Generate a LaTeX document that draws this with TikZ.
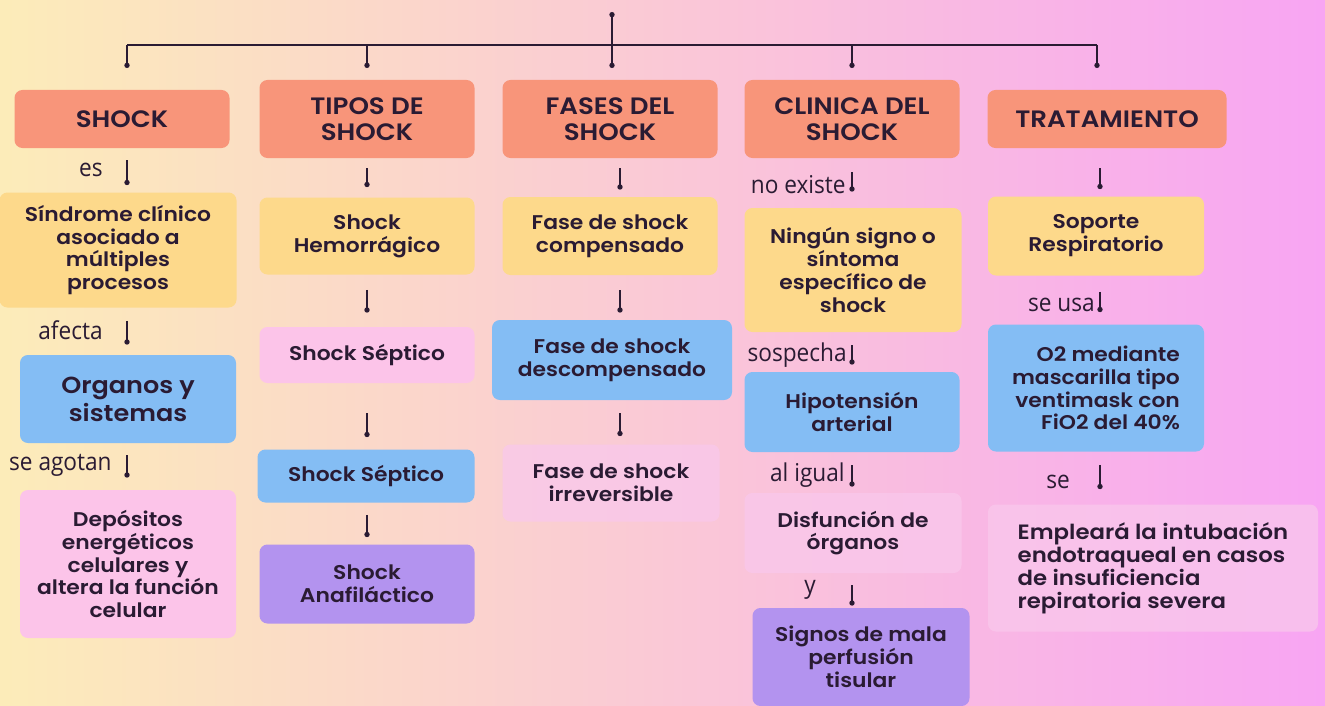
\documentclass[tikz,border=0pt]{standalone}
\usepackage{fontspec}
\setmainfont{Open Sans}[FakeStretch=0.92]
\newfontfamily\boxfont{Poppins SemiBold}[FakeStretch=1.1]
\usetikzlibrary{arrows.meta, positioning, calc}

\definecolor{ink}{HTML}{2A1B33}
\definecolor{bgL}{HTML}{FCECB9}
\definecolor{bgM}{HTML}{FBCBD4}
\definecolor{bgR}{HTML}{F8A5F3}
\definecolor{salmon}{HTML}{F8957A}
\definecolor{cyellow}{HTML}{FDD98B}
\definecolor{cpink}{HTML}{FCC4E9}
\definecolor{cblue}{HTML}{84BDF4}
\definecolor{cpurple}{HTML}{B393EF}
\definecolor{lpink}{HTML}{F9C8EC}

\newlength\pxu
\setlength\pxu{0.02cm}

\tikzset{
  box/.style={rounded corners=4.5pt, align=center, inner sep=2pt, text=ink,
    font=\boxfont\fontsize{11.3}{13}\selectfont},
  head/.style={box, fill=salmon, minimum width=215\pxu,
    font=\boxfont\fontsize{13.5}{14.5}\selectfont},
  ybox/.style={box, fill=cyellow},
  pbox/.style={box, fill=cpink},
  bbox/.style={box, fill=cblue},
  vbox/.style={box, fill=cpurple},
  lbox/.style={box, fill=lpink, fill opacity=0.75, text opacity=1},
  lbl/.style={text=ink, inner sep=0pt, font=\fontsize{14}{16}\selectfont},
  conn/.style 2 args={-{Circle[length=3pt]}, line width=0.7pt, draw=ink,
    shorten <=#1\pxu, shorten >=#2\pxu},
  wire/.style={line width=0.7pt, draw=ink}
}

\begin{document}
\begin{tikzpicture}[x=0.02cm, y=-0.02cm]
\useasboundingbox (0,0) rectangle (1325,706);
\shade[left color=bgL, middle color=bgM, right color=bgR] (0,0) rectangle (1325,706);

% column lines
\coordinate (c1) at (127,0);
\coordinate (c2) at (367,0);
\coordinate (c3) at (620,0);
\coordinate (c4) at (852,0);
\coordinate (c5) at (1100,0);
\coordinate (c6) at (1097,0);

% headers
\node[head, minimum height=58\pxu] (shock) at (122,119) {SHOCK};
\node[head, minimum height=78\pxu] (tipos) at (367,119) {TIPOS DE\\SHOCK};
\node[head, minimum height=78\pxu] (fases) at (610,119) {FASES DEL\\SHOCK};
\node[head, minimum height=78\pxu] (clinica) at (852,119) {CLINICA DEL\\SHOCK};
\node[head, minimum height=58\pxu, minimum width=239\pxu] (trat) at (1107,119) {TRATAMIENTO};

% column 1
\node[ybox, minimum width=237\pxu, minimum height=115\pxu] (sindrome) at (118,250)
  {Síndrome clínico\\asociado a\\múltiples\\procesos};
\node[bbox, minimum width=216\pxu, minimum height=88\pxu,
  font=\boxfont\fontsize{13.2}{16}\selectfont] (organos) at (128,399) {Organos y\\sistemas};
\node[pbox, minimum width=216\pxu, minimum height=148\pxu] (depositos) at (128,564)
  {Depósitos\\energéticos\\celulares y\\altera la función\\celular};

% column 2
\node[ybox, minimum width=215\pxu, minimum height=77\pxu] (hemorragico) at (367,236) {Shock\\Hemorrágico};
\node[pbox, minimum width=215\pxu, minimum height=56\pxu] (septicoA) at (367,355) {Shock Séptico};
\node[bbox, minimum width=217\pxu, minimum height=53\pxu] (septicoB) at (366,476) {Shock Séptico};
\node[vbox, minimum width=215\pxu, minimum height=79\pxu] (anafilactico) at (367,584) {Shock\\Anafiláctico};

% column 3
\node[ybox, minimum width=215\pxu, minimum height=78\pxu] (compensado) at (610,236) {Fase de shock\\compensado};
\node[bbox, minimum width=240\pxu, minimum height=80\pxu] (descompensado) at (612,360) {Fase de shock\\descompensado};
\node[lbox, minimum width=217\pxu, minimum height=77\pxu] (irreversible) at (611,483) {Fase de shock\\irreversible};

% column 4
\node[ybox, minimum width=217\pxu, minimum height=124\pxu] (ningun) at (853,270)
  {Ningún signo o\\síntoma\\específico de\\shock};
\node[bbox, minimum width=215\pxu, minimum height=80\pxu] (hipotension) at (852,412) {Hipotensión\\arterial};
\node[lbox, minimum width=217\pxu, minimum height=80\pxu] (disfuncion) at (853,533) {Disfunción de\\órganos};
\node[vbox, minimum width=217\pxu, minimum height=98\pxu] (signos) at (861,657) {Signos de mala\\perfusión\\tisular};

% column 5
\node[ybox, minimum width=216\pxu, minimum height=79\pxu] (soporte) at (1096,236) {Soporte\\Respiratorio};
\node[bbox, minimum width=216\pxu, minimum height=127\pxu, align=right] (otwo) at (1096,388)
  {O2 mediante\\mascarilla tipo\\ventimask con\\FiO2 del 40\%};
\node[lbox, minimum width=330\pxu, minimum height=127\pxu, align=left,
  font=\boxfont\fontsize{11.8}{13}\selectfont] (empleara) at (1153,568)
  {Empleará la intubación\\endotraqueal en casos\\de insuficiencia\\repiratoria severa};

% top tree
\coordinate (root) at (612,12);
\coordinate (bar) at (0,45);
\coordinate (drop) at (0,68);
\draw[wire, {Circle[length=3pt]}-{Circle[length=3pt]}] (root) -- (root |- drop);
\draw[wire] (bar -| c1) -- (bar -| c6);
\foreach \cc in {c1, c2, c4, c6} {
  \draw[wire, -{Circle[length=3pt]}] (bar -| \cc) -- (drop -| \cc);
}

% connectors
\draw[conn={12}{7}] (shock.south -| c1) -- (sindrome.north -| c1);
\draw[conn={13}{10}] (sindrome.south -| c1) -- (organos.north -| c1);
\draw[conn={12}{12}] (organos.south -| c1) -- (depositos.north -| c1);

\draw[conn={10}{10}] (tipos.south -| c2) -- (hemorragico.north -| c2);
\draw[conn={15}{14}] (hemorragico.south -| c2) -- (septicoA.north -| c2);
\draw[conn={30}{12}] (septicoA.south -| c2) -- (septicoB.north -| c2);
\draw[conn={12}{7}] (septicoB.south -| c2) -- (anafilactico.north -| c2);

\draw[conn={10}{7}] (fases.south -| c3) -- (compensado.north -| c3);
\draw[conn={15}{7}] (compensado.south -| c3) -- (descompensado.north -| c3);
\draw[conn={13}{8}] (descompensado.south -| c3) -- (irreversible.north -| c3);

\draw[conn={14}{16}] (clinica.south -| c4) -- (ningun.north -| c4);
\draw[conn={13}{7}] (ningun.south -| c4) -- (hipotension.north -| c4);
\draw[conn={13}{6}] (hipotension.south -| c4) -- (disfuncion.north -| c4);
\draw[conn={12}{2}] (disfuncion.south -| c4) -- (signos.north -| c4);

\draw[conn={20}{7}] (trat.south -| c5) -- (soporte.north -| c5);
\draw[conn={16}{12}] (soporte.south -| c5) -- (otwo.north -| c5);
\draw[conn={13}{15}] (otwo.south -| c5) -- (empleara.north -| c5);

% labels
\node[lbl, anchor=east] (esL) at (103,170) {es};
\node[lbl, anchor=east] (afectaL) at (103,330) {afecta};
\node[lbl, anchor=east] (agotanL) at (112,465) {se agotan};
\node[lbl, anchor=east] (existeL) at (846,185) {no existe};
\node[lbl, anchor=east] (sospechaL) at (847,355) {sospecha};
\node[lbl, anchor=east] (igualL) at (845,475) {al igual};
\node[lbl] (yL) at (810,590) {y};
\node[lbl, anchor=east] (usaL) at (1095,305) {se usa};
\node[lbl] (seL) at (1058,482) {se};
\end{tikzpicture}
\end{document}
